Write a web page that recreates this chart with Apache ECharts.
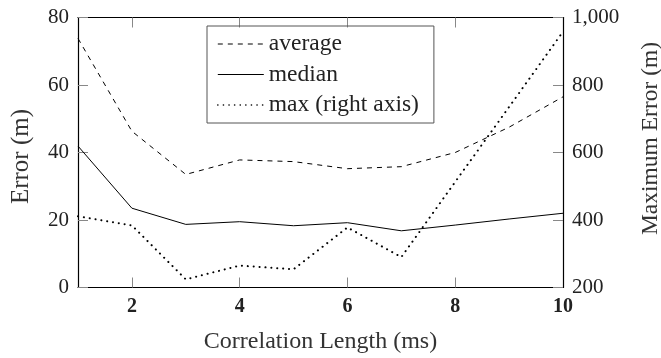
<!DOCTYPE html>
<html>
<head>
<meta charset="utf-8">
<script src="https://cdn.jsdelivr.net/npm/echarts@6/dist/echarts.min.js"></script>
<style>html,body{margin:0;padding:0;background:#fff}#c{width:661px;height:358px}</style>
</head>
<body>
<div id="c"></div>
<script>
const xValues = [1, 2, 3, 4, 5, 6, 7, 8, 9, 10];
const averageErr = [73.8, 46.3, 33.5, 37.8, 37.3, 35.2, 35.8, 40.0, 47.5, 56.5];
const medianErr = [41.9, 23.5, 18.7, 19.5, 18.3, 19.2, 16.8, 18.5, 20.3, 22.0];
const maxErr = [411, 384, 224, 265, 254, 378, 290, 513, 735, 958];
const xTicks = [2, 4, 6, 8, 10];
const leftTicks = [0, 20, 40, 60, 80];
const rightTicks = [200, 400, 600, 800, 1000];

const FONT = '"Liberation Serif", "DejaVu Serif", serif';
const txt = '#222';
const tickColor = '#888';

const pair = (ys) => xValues.map((x, i) => [x, ys[i]]);

const chart = echarts.init(document.getElementById('c'), null, {renderer: 'canvas'});
chart.setOption({
  animation: false,
  textStyle: {fontFamily: FONT, color: txt},
  grid: {left: 78, right: 98, top: 17.5, bottom: 70.5, show: false, outerBoundsMode: 'none', containLabel: false},
  legend: {
    orient: 'vertical',
    left: 207, top: 26,
    padding: [6, 15, 6, 10],
    itemGap: 6.5,
    itemWidth: 46,
    itemHeight: 20,
    borderColor: '#555',
    borderWidth: 1,
    itemStyle: {color: 'rgba(0,0,0,0)', borderWidth: 0, opacity: 0},
    textStyle: {fontFamily: FONT, fontSize: 23.5, color: txt},
    data: [
      {name: 'average', lineStyle: {width: 1, type: [5, 5], color: '#000'}},
      {name: 'median', lineStyle: {width: 1, type: 'solid', color: '#000'}},
      {name: 'max (right axis)', lineStyle: {width: 1.6, type: [0.1, 5.5], cap: 'round', color: '#000'}}
    ]
  },
  xAxis: [{
    type: 'value', min: 1, max: 10,
    name: 'Correlation Length (ms)', nameLocation: 'middle', nameGap: 42,
    nameTextStyle: {fontFamily: FONT, fontSize: 24, color: '#333'},
    axisLine: {show: true, onZero: false, lineStyle: {color: '#000', width: 1.2}},
    axisTick: {show: true, inside: true, length: 10, customValues: xTicks.slice(0, 4), lineStyle: {color: tickColor}},
    axisLabel: {customValues: xTicks, fontFamily: FONT, fontSize: 20, fontWeight: 'bold', color: txt, margin: 9},
    splitLine: {show: false}
  }, {
    type: 'value', min: 1, max: 10, position: 'top',
    axisLine: {show: true, onZero: false, lineStyle: {color: '#000', width: 1.2}},
    axisTick: {show: true, inside: true, length: 10, customValues: xTicks.slice(0, 4), lineStyle: {color: tickColor}},
    axisLabel: {show: false},
    splitLine: {show: false}
  }],
  yAxis: [{
    type: 'value', min: 0, max: 80, interval: 20, position: 'left',
    name: 'Error (m)', nameLocation: 'middle', nameGap: 44, nameRotate: 90,
    nameTextStyle: {fontFamily: FONT, fontSize: 25, color: '#333', padding: [0, 8, 0, 0]},
    axisLine: {show: true, onZero: false, lineStyle: {color: '#000', width: 1.2}},
    axisTick: {show: true, inside: true, length: 10, lineStyle: {color: tickColor}},
    axisLabel: {fontFamily: FONT, fontSize: 21, color: txt, margin: 9,
      customValues: leftTicks},
    splitLine: {show: false}
  }, {
    type: 'value', min: 200, max: 1000, interval: 200, position: 'right',
    name: 'Maximum Error (m)', nameLocation: 'middle', nameGap: 76, nameRotate: 90,
    nameTextStyle: {fontFamily: FONT, fontSize: 23.5, color: '#333', padding: [0, 0, 0, 28]},
    axisLine: {show: true, onZero: false, lineStyle: {color: '#000', width: 1.2}},
    axisTick: {show: true, inside: true, length: 10, lineStyle: {color: tickColor}},
    axisLabel: {fontFamily: FONT, fontSize: 21, color: txt, margin: 9,
      customValues: rightTicks,
      formatter: v => v.toLocaleString('en-US')},
    splitLine: {show: false}
  }],
  series: [{
    name: 'average', type: 'line', xAxisIndex: 0, yAxisIndex: 0,
    data: pair(averageErr), symbol: 'none',
    lineStyle: {color: '#000', width: 1, type: [5, 5]},
    itemStyle: {color: '#000'}
  }, {
    name: 'median', type: 'line', xAxisIndex: 0, yAxisIndex: 0,
    data: pair(medianErr), symbol: 'none',
    lineStyle: {color: '#000', width: 1, type: 'solid'},
    itemStyle: {color: '#000'}
  }, {
    name: 'max (right axis)', type: 'line', xAxisIndex: 0, yAxisIndex: 1,
    data: pair(maxErr), symbol: 'none',
    lineStyle: {color: '#000', width: 2, type: [0.1, 5.8], cap: 'round'},
    itemStyle: {color: '#000'}
  }]
});
</script>
</body>
</html>
